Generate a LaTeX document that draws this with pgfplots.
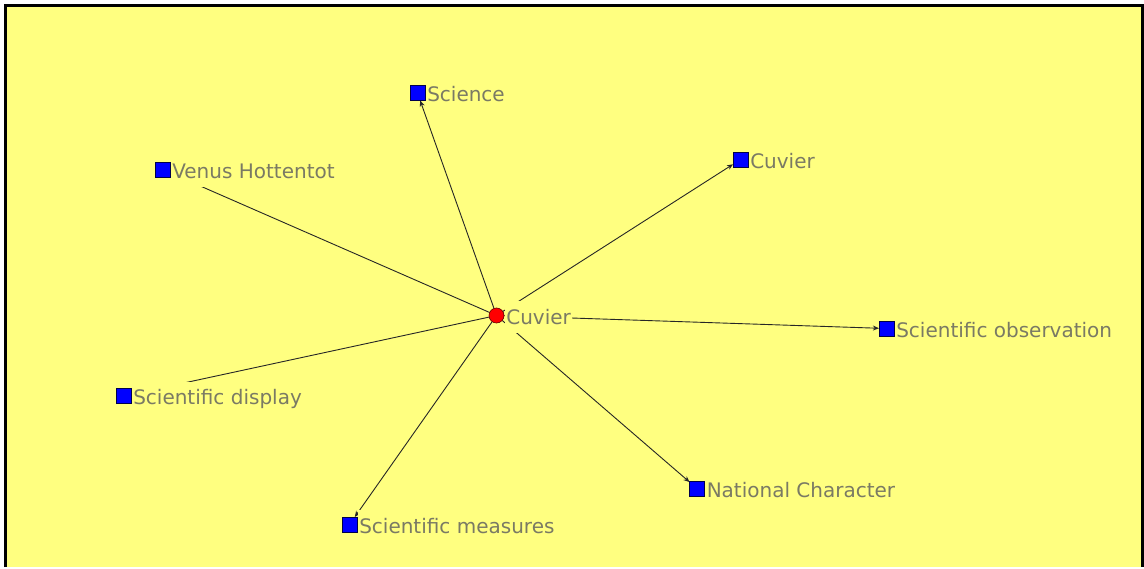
\documentclass[border=0pt]{standalone}
\usepackage{pgfplots}
\pgfplotsset{compat=1.18}
\usepackage{fontspec}
\setmainfont{DejaVu Sans}
\usetikzlibrary{arrows.meta}
\definecolor{bg}{RGB}{255,255,128}
\definecolor{lbl}{RGB}{122,122,100}
\definecolor{nodeblue}{RGB}{0,0,255}
\definecolor{nodered}{RGB}{255,0,0}
\begin{document}
\begin{tikzpicture}
\begin{axis}[
  xmin=0, xmax=1144, ymin=0, ymax=567, y dir=reverse,
  width=1144bp, height=567bp, scale only axis, hide axis, clip=false,
  edge/.style={draw=black!85, line width=0.9bp, -{Stealth[length=6bp,width=5bp]}, shorten <=7.5bp},
  lab/.style={nodes near coords, point meta=explicit symbolic,
    every node near coord/.append style={anchor=west, xshift=8bp, yshift=-1.5bp, inner xsep=1.5bp, inner ysep=4bp,
      fill=bg, text=lbl, font=\fontsize{20bp}{24bp}\selectfont,
      text height=19bp, text depth=4.5bp}},
]
% background and frame
\fill[white] (axis cs:0,0) rectangle (axis cs:1144,567);
\fill[bg] (axis cs:5.5,5.5) rectangle (axis cs:1142,567);
\draw[black, line width=3bp] (axis cs:5.5,567) -- (axis cs:5.5,5.5) -- (axis cs:1142.5,5.5) -- (axis cs:1142.5,567);
% edges
\addplot[edge, shorten >=8bp] coordinates {(496.5,315.5) (417.5,93)};
\addplot[edge, shorten >=8.2bp] coordinates {(496.5,315.5) (162.5,169.5)};
\addplot[edge, shorten >=8.9bp] coordinates {(496.5,315.5) (740.5,159.5)};
\addplot[edge, shorten >=7.6bp] coordinates {(496.5,315.5) (886.5,328.5)};
\addplot[edge, shorten >=7.7bp] coordinates {(496.5,315.5) (123.5,396)};
\addplot[edge, shorten >=9.2bp] coordinates {(496.5,315.5) (349.5,524.5)};
\addplot[edge, shorten >=9.9bp] coordinates {(496.5,315.5) (697,488.5)};
% nodes
\addplot[only marks, mark=square*, mark size=7.5bp, lab,
  mark options={fill=nodeblue, draw=black!70!blue, line width=0.5bp}] coordinates {
  (417.5,93) [Science]
  (162.5,169.5) [Venus Hottentot]
  (740.5,159.5) [Cuvier]
  (886.5,328.5) [Scientific observation]
  (123.5,396) [Scientific display]
  (349.5,524.5) [Scientific measures]
  (697,488.5) [National Character]
};
\addplot[only marks, mark=*, mark size=7.5bp, lab,
  mark options={fill=nodered, draw=black!60!red, line width=0.6bp}] coordinates {
  (496.5,315.5) [Cuvier]
};
\end{axis}
\end{tikzpicture}
\end{document}
